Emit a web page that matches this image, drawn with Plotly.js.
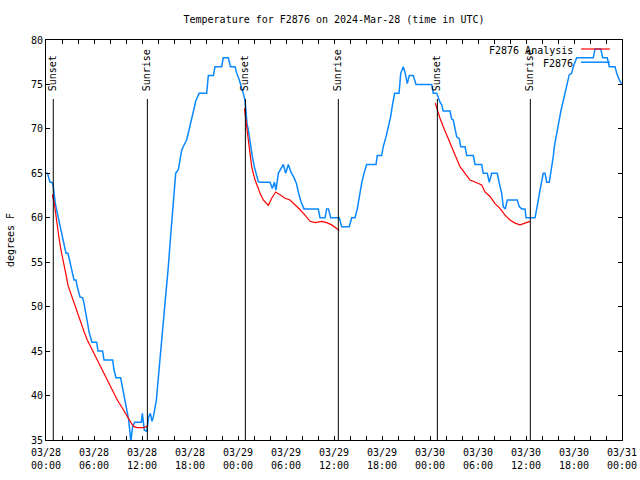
<!DOCTYPE html>
<html>
<head>
<meta charset="utf-8">
<script src="https://cdn.plot.ly/plotly-3.0.1.min.js"></script>
<style>html,body{margin:0;padding:0;background:#fff}#chart{width:640px;height:480px}</style>
</head>
<body>
<div id="chart"></div>
<script>
// Hours after 2024-03-28 00:00 UTC
const obsHours = [0,0.19,0.5,0.75,0.9,1.0,1.17,1.42,1.67,1.92,2.17,2.42,2.5,2.75,3.0,3.25,3.5,3.75,3.92,4.25,4.58,4.75,4.92,5.17,5.42,5.75,6.33,6.5,7.08,7.25,8.33,8.5,8.75,9.33,9.58,9.83,10.08,10.33,10.5,10.6,10.83,11.08,11.92,12.04,12.29,12.58,12.67,12.83,13.04,13.25,13.42,13.63,13.8,14.0,14.25,14.54,14.79,15.04,15.29,15.54,15.79,16.04,16.21,16.54,16.75,16.96,17.21,17.58,17.88,18.21,18.46,18.71,19.13,20.08,20.29,20.92,21.13,21.96,22.16,22.79,23.06,23.63,23.83,24.16,24.46,24.66,24.88,24.96,25.13,25.29,25.46,25.63,25.79,26.04,26.29,26.54,26.75,28.0,28.29,28.54,28.75,29.04,29.67,29.96,30.29,30.63,30.96,31.29,31.54,31.88,32.25,34.04,34.25,34.88,35.08,35.31,35.58,36.66,36.96,37.91,38.21,38.63,38.91,39.16,39.46,39.75,40.08,41.25,41.41,41.96,42.16,42.5,42.79,43.09,43.34,43.59,44.13,44.34,44.66,44.91,45.16,45.41,45.91,46.25,48.21,48.41,48.84,49.04,49.25,49.46,49.66,50.5,50.71,50.91,51.13,51.34,51.66,51.84,52.38,52.59,53.41,53.63,54.46,54.66,55.16,55.41,55.71,56.41,56.66,56.96,57.16,57.41,57.66,58.91,59.16,59.46,59.88,60.0,61.13,61.34,61.54,61.75,61.96,62.16,62.38,62.59,62.91,63.09,63.29,63.41,63.54,63.75,63.96,64.16,64.38,64.59,64.88,65.16,65.41,65.71,65.91,66.34,68.41,68.63,69.34,69.59,70.16,70.41,71.13,71.34,71.66,72.0];
const obsTemps = [65,65,64,64,63.6,62.6,61.6,60.5,59.4,58.3,57.1,56.2,56,56,55.1,54.1,53,53,52.2,51.1,51,50.4,49.6,48.5,47,46,46,45,45,44,44,42.9,42,42,40.8,39.5,38.4,37.3,35.8,34.8,36.5,37,37,38,36.1,36,36.5,37.6,38,37.1,37.6,38.8,39.5,41.6,44,47.4,49.6,51.9,54.5,57.5,60.1,63.5,65,65.4,66.5,67.6,68.1,68.75,69.9,71,72.1,73.1,74,74,76,76,77,77,78,78,77,77,76.3,75.5,74.7,74,73.2,71.9,70.6,69.9,68.75,68,66.9,65.75,65,64.06,64,64,63.3,64,63.1,65,66,65,66,65.1,64.6,63.9,62.9,61.8,61,61,60,60,61,61,60,60,59,59,60,60,61,62.4,63.9,65,66,66,67,67,68,69.1,70.25,71.4,72.9,74,74,76.25,77,76.25,75.1,76,76,75,75,74,74,73.4,73,72.7,72,72,71.1,71,70.1,69.1,68.9,68,68,67,67,66,66,65,65,64,65,65,63.9,62.75,61.25,61,62,62,61.25,61,61,60,60,60.9,62,63.1,64.25,65,65,64,64,65,65.75,66.9,68,69.1,70.25,71.2,72.1,72.9,74,75.1,76.1,76.25,77,78,78,79,79,78,78,77,77,76.25,75.5,75];

// Analysis: three overnight segments (null = gap)
const anaHours = [0.79,1.0,1.21,1.41,1.66,1.91,2.25,2.5,2.75,3.16,3.59,3.91,4.34,4.75,5.16,5.79,6.41,7.04,7.66,8.29,8.91,9.54,10.16,10.66,11.0,11.41,12.25,12.59,12.75,null,
  24.81,24.96,25.13,25.29,25.5,25.71,25.91,26.13,26.46,26.75,27.16,27.79,28.21,28.71,29.25,29.88,30.5,30.91,31.54,32.38,33.0,33.63,34.46,35.09,35.71,36.34,36.66,null,
  48.66,48.91,49.25,49.66,50.09,50.5,50.91,51.34,51.75,52.38,53.0,53.54,54.04,54.46,54.88,55.5,56.13,56.75,57.38,58.0,58.63,59.25,59.88,60.5];
const anaTemps = [62.6,61.8,60.5,59,57.5,56.2,54.9,53.6,52.4,51.3,50.4,49.4,48.3,47.2,46.25,45.1,44,42.9,41.75,40.6,39.5,38.6,37.6,36.9,36.5,36.4,36.4,36.5,36.6,null,
  72.3,71.4,69.9,68.75,67.25,65.75,65,64.25,63.5,62.75,62,61.4,62.2,62.9,62.6,62.2,62,61.6,61.1,60.3,59.6,59.45,59.6,59.45,59.2,58.8,58.55,null,
  72.9,72.1,71.2,70.25,69.3,68.4,67.4,66.5,65.75,65,64.25,64.06,63.9,63.7,62.9,62.4,61.6,61.06,60.3,59.75,59.4,59.2,59.4,59.6];

const sunHours = [0.91,12.67,24.92,36.54,48.92,60.54];
const sunLabels = ['Sunset','Sunrise','Sunset','Sunrise','Sunset','Sunrise'];

const seriesNames = ['F2876 Analysis','F2876'];
const seriesColors = ['#ff0000','#0a88ff'];

const BASE = Date.UTC(2024,2,28);
function toDate(h){
  if(h===null) return null;
  return new Date(BASE + h*3600000).toISOString().replace('T',' ').slice(0,19);
}
const FONT = 'DejaVu Sans Mono, monospace';

const traces = [
  {x: obsHours.map(toDate), y: obsTemps, type:'scatter', mode:'lines', name: seriesNames[1],
   line:{color: seriesColors[1], width:1.5}, showlegend:false, hoverinfo:'x+y'},
  {x: anaHours.map(toDate), y: anaTemps, type:'scatter', mode:'lines', name: seriesNames[0],
   line:{color: seriesColors[0], width:1.2}, connectgaps:false, showlegend:false, hoverinfo:'x+y'}
];

const shapes = sunHours.map(h => ({type:'line', xref:'x', yref:'paper', x0:toDate(h), x1:toDate(h), y0:0, y1:0.8525,
  line:{color:'#000', width:1}}));
// custom legend line samples (text then sample, top right)
shapes.push({type:'line', xref:'paper', yref:'paper', x0:0.929, x1:0.979, y0:0.9775, y1:0.9775, line:{color:seriesColors[0], width:1.2}});
shapes.push({type:'line', xref:'paper', yref:'paper', x0:0.929, x1:0.979, y0:0.9445, y1:0.9445, line:{color:seriesColors[1], width:1.5}});

const annotations = sunHours.map((h,i) => ({x:toDate(h), xref:'x', yref:'paper', y:0.8675, yanchor:'bottom', xanchor:'center',
  text:sunLabels[i], textangle:-90, showarrow:false, font:{family:FONT, size:10, color:'#000'}}));
annotations.push({xref:'paper', yref:'paper', x:0.918, y:0.974, xanchor:'right', yanchor:'middle', text:seriesNames[0], showarrow:false, font:{family:FONT, size:10, color:'#000'}});
annotations.push({xref:'paper', yref:'paper', x:0.918, y:0.942, xanchor:'right', yanchor:'middle', text:seriesNames[1], showarrow:false, font:{family:FONT, size:10, color:'#000'}});

const layout = {
  width:640, height:480,
  margin:{l:46, r:18, t:40, b:40, pad:0},
  paper_bgcolor:'#fff', plot_bgcolor:'#fff',
  font:{family:FONT, size:10, color:'#000'},
  title:{text:'Temperature for F2876 on 2024-Mar-28 (time in UTC)', font:{family:FONT, size:10, color:'#000'},
    x:0.5, xref:'paper', y:1-19/480, yref:'container', yanchor:'middle'},
  showlegend:false,
  xaxis:{type:'date', range:[toDate(0), toDate(72)], tick0:toDate(0), dtick:6*3600000,
    tickformat:'%m/%d<br>%H:%M', ticks:'inside', ticklen:4, tickcolor:'#000', ticklabelstandoff:3,
    showline:true, linecolor:'#000', linewidth:1, mirror:'allticks', showgrid:false, zeroline:false,
    minor:{dtick:2*3600000, ticks:'inside', ticklen:4, tickcolor:'#000', showgrid:false},
    tickfont:{family:FONT, size:10, color:'#000'}, automargin:false, fixedrange:true},
  yaxis:{range:[35,80], dtick:5, tick0:35, ticks:'inside', ticklen:4, tickcolor:'#000',
    showline:true, linecolor:'#000', linewidth:1, mirror:'allticks', showgrid:false, zeroline:false,
    tickfont:{family:FONT, size:10, color:'#000'}, automargin:false, fixedrange:true,
    title:{text:'degrees F', font:{family:FONT, size:10, color:'#000'}, standoff:14}},
  shapes: shapes,
  annotations: annotations
};

Plotly.newPlot('chart', traces, layout, {staticPlot:true, displayModeBar:false});
</script>
</body>
</html>
